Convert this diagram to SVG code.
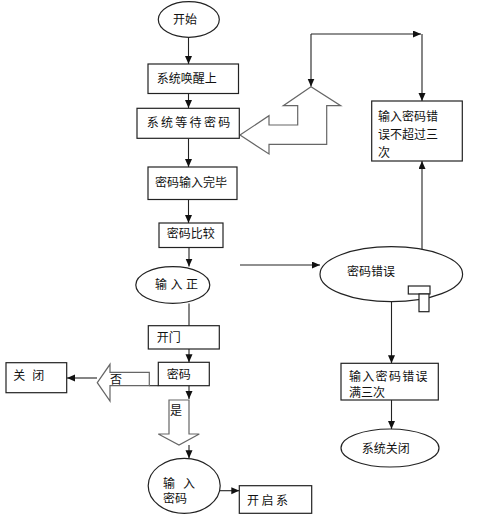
<svg xmlns="http://www.w3.org/2000/svg" width="478" height="527" viewBox="0 0 478 527">
<defs>
<marker id="a" markerUnits="userSpaceOnUse" markerWidth="8" markerHeight="8" refX="8" refY="3.5" orient="auto"><path d="M0,0 L8,3.5 L0,7 z" fill="#111"/></marker>
<style>
.n{fill:#fff;stroke:#222;stroke-width:1.2}
.h{fill:#fff;stroke:#666;stroke-width:1.2}
.c{fill:none;stroke:#222;stroke-width:1.1}
.ca{fill:none;stroke:#222;stroke-width:1.1;marker-end:url(#a)}
text{font-family:"Noto Sans CJK SC","Liberation Sans",sans-serif;font-size:12px;fill:#111}
</style>
</defs>
<rect width="478" height="527" fill="#fff"/>
<g id="connectors">
<path class="ca" d="M188.5,37.5 V64"/>
<path class="ca" d="M188.5,93.5 V108"/>
<path class="ca" d="M188.5,138.5 V167"/>
<path class="ca" d="M188.5,199.5 V223"/>
<path class="ca" d="M189,247.5 V266.5"/>
<path class="c" d="M189,303.5 V325.7"/>
<path class="ca" d="M189,349 V362.3"/>
<path class="ca" d="M189,385.7 V399"/>
<path class="ca" d="M189,445 V458.3"/>
<path class="ca" d="M220,490.7 H239.3"/>
<path class="ca" d="M97,378 H67"/>
<path class="c" d="M149.3,385.7 H158.3"/>
<path class="ca" d="M240,265 H320"/>
<path class="ca" d="M422,252 V161"/>
<path class="ca" d="M391.5,301.7 V363.3"/>
<path class="ca" d="M391.5,400 V429"/>
<path class="ca" d="M311,34 V86.5"/>
<path class="ca" d="M311,34 H421"/>
<path class="ca" d="M422,34 V101"/>
</g>
<g id="hollow-arrows">
<polygon class="h" points="311,86.7 283.3,105.7 297.7,105.7 297.7,125 269,125 269,115.7 240,135 269,154 269,144.3 326.7,144.3 326.7,105.7 340.7,105.7"/>
<polygon class="h" points="97.3,382.7 110,364.3 110,372.3 149.3,372.3 149.3,385.7 110,385.7 110,401"/>
<polygon class="h" points="169,400 189,400 189,434 199.3,434 179,445 158.3,434 169,434"/>
<text x="116" y="384" text-anchor="middle" font-size="13">否</text>
<text x="176" y="414.5" text-anchor="middle" font-size="13">是</text>
</g>
<g id="start"><ellipse class="n" cx="188.8" cy="19.5" rx="30.5" ry="17.8"/><text x="173" y="24">开始</text></g>
<g id="wake"><rect class="n" x="148" y="64" width="90.5" height="29.5"/><text x="156.7" y="82.5">系统唤醒上</text></g>
<g id="wait"><rect class="n" x="137" y="108.3" width="102.3" height="30"/><text x="146.7" y="127" letter-spacing="2.3">系统等待密码</text></g>
<g id="done"><rect class="n" x="148" y="167" width="89" height="32.5"/><text x="155" y="187">密码输入完毕</text></g>
<g id="compare"><rect class="n" x="159" y="223" width="64" height="24.5"/><text x="166.7" y="237.5">密码比较</text></g>
<g id="correct"><ellipse class="n" cx="172.8" cy="285" rx="37" ry="18.3"/><text x="155" y="289" letter-spacing="3.5">输入正</text></g>
<g id="open"><rect class="n" x="148.3" y="325.7" width="71" height="23.3"/><text x="156.7" y="342">开门</text></g>
<g id="pwd"><rect class="n" x="158.3" y="362.3" width="51" height="23.4"/><text x="166.7" y="378.5">密码</text></g>
<g id="close"><rect class="n" x="6" y="362.7" width="60.7" height="30"/><text x="13.3" y="380" font-size="13" letter-spacing="7">关闭</text></g>
<g id="input-pwd"><ellipse class="n" cx="184.2" cy="485.8" rx="36" ry="27.5"/><text x="163" y="487.5" letter-spacing="8">输入</text><text x="163" y="503">密码</text></g>
<g id="start-sys"><rect class="n" x="239.3" y="485.7" width="72.4" height="27.6"/><text x="247" y="505" font-size="13" letter-spacing="2.5">开启系</text></g>
<g id="error"><ellipse class="n" cx="391.3" cy="274.2" rx="71.3" ry="27.5"/><text x="347" y="276">密码错误</text>
<rect class="n" x="408.3" y="286" width="21.7" height="8" stroke-width="1"/><rect class="n" x="419" y="294" width="10" height="17.7" stroke-width="1"/></g>
<g id="under3"><rect class="n" x="371.7" y="101" width="90.6" height="60"/><text x="378" y="121">输入密码错</text><text x="378" y="139">误不超过三</text><text x="378" y="157">次</text></g>
<g id="full3"><rect class="n" x="341" y="363.3" width="97.3" height="36.7"/><text x="349" y="380.5" letter-spacing="1.3">输入密码错误</text><text x="349" y="397" font-size="10">满三次</text></g>
<g id="shutdown"><ellipse class="n" cx="390" cy="448" rx="49" ry="19"/><text x="361.7" y="452.5">系统关闭</text></g>
</svg>
